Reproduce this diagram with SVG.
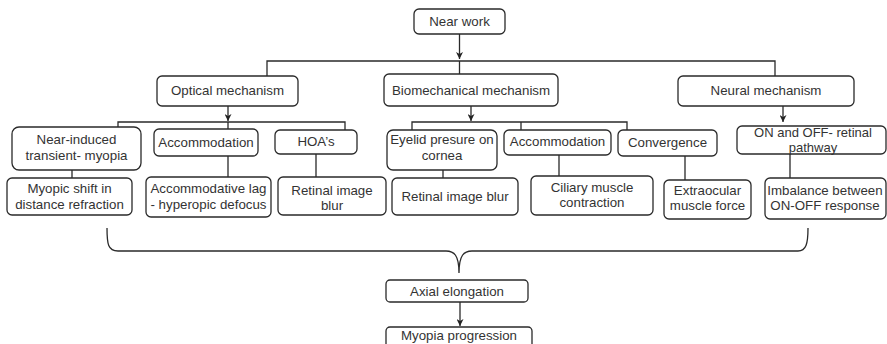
<svg xmlns="http://www.w3.org/2000/svg" width="887" height="344" viewBox="0 0 887 344">
<defs>
<marker id="arr" viewBox="0 0 10 10" refX="10" refY="5" markerWidth="7" markerHeight="7" markerUnits="userSpaceOnUse" orient="auto">
<path d="M0,0 L10,5 L0,10 L3,5 z" fill="#222"/>
</marker>
<style>
.n{fill:#fff;stroke:#2a2a2a;stroke-width:1.3}
text{font-family:"Liberation Sans",Arial,sans-serif;font-size:13.3px;fill:#333;text-anchor:middle}
.t{font-size:13px}
.c{fill:none;stroke:#2a2a2a;stroke-width:1.3}
</style>
</defs>
<rect width="887" height="344" fill="#fff"/>
<g id="connectors">
<path class="c" d="M459.5,34 V59" marker-end="url(#arr)"/>
<path class="c" d="M267,76 V61 H775 V76 M459.5,61 V74"/>
<path class="c" d="M228,106 V121" marker-end="url(#arr)"/>
<path class="c" d="M118,127 V122 H345 V130 M228,122 V129"/>
<path class="c" d="M471,106 V121" marker-end="url(#arr)"/>
<path class="c" d="M412,130 V122 H627 V130 M521,122 V130"/>
<path class="c" d="M783,106 V122" marker-end="url(#arr)"/>
<path class="c" d="M72,170 V178 M228,156 V177 M316,154 V177 M443,170 V178 M559,155 V176 M685,156 V180 M790,154 V178"/>
<path class="c" d="M107,228 C107,244 108,251 118,251 L446,251 C454,251 459,255 459,273 C459,255 464,251 472,251 L798,251 C806,251 808,244 808,228"/>
<path class="c" d="M460,302 V326" marker-end="url(#arr)"/>
</g>
<g id="near-work"><rect class="n" x="414" y="9" width="91" height="25" rx="5"/><text x="459.5" y="26">Near work</text></g>
<g id="optical"><rect class="n" x="157" y="76" width="141" height="30" rx="5"/><text x="227.5" y="95">Optical mechanism</text></g>
<g id="biomechanical"><rect class="n" x="384" y="74" width="174" height="32" rx="5"/><text x="471" y="95">Biomechanical mechanism</text></g>
<g id="neural"><rect class="n" x="678" y="76" width="176" height="30" rx="5"/><text x="766" y="95">Neural mechanism</text></g>
<g id="near-induced"><rect class="n" x="12" y="127" width="129" height="43" rx="7"/><text x="76.5" y="144">Near-induced</text><text x="76.5" y="160">transient- myopia</text></g>
<g id="accommodation-opt"><rect class="n" x="154" y="129" width="104" height="27" rx="5"/><text x="206" y="147">Accommodation</text></g>
<g id="hoas"><rect class="n" x="275" y="130" width="82" height="24" rx="5"/><text x="316" y="146">HOA’s</text></g>
<g id="eyelid"><rect class="n" x="387" y="130" width="110" height="40" rx="6"/><text x="442" y="144">Eyelid presure on</text><text x="442" y="160">cornea</text></g>
<g id="accommodation-bio"><rect class="n" x="504" y="130" width="107" height="25" rx="5"/><text x="557.5" y="146">Accommodation</text></g>
<g id="convergence"><rect class="n" x="618" y="130" width="99" height="26" rx="5"/><text x="667.5" y="147">Convergence</text></g>
<g id="on-off"><rect class="n" x="737" y="126" width="149" height="28" rx="5"/><text class="t" x="813" y="137">ON and OFF- retinal</text><text class="t" x="813" y="151.5">pathway</text></g>
<g id="myopic-shift"><rect class="n" x="7" y="178" width="125" height="37" rx="5"/><text x="69.5" y="193">Myopic shift in</text><text x="69.5" y="209">distance refraction</text></g>
<g id="accommodative-lag"><rect class="n" x="146" y="177" width="125" height="40" rx="5"/><text x="208.5" y="193">Accommodative lag</text><text x="208.5" y="209">- hyperopic defocus</text></g>
<g id="retinal-blur-1"><rect class="n" x="278" y="177" width="108" height="38" rx="5"/><text x="332" y="195">Retinal image</text><text x="332" y="210">blur</text></g>
<g id="retinal-blur-2"><rect class="n" x="392" y="178" width="126" height="37" rx="5"/><text x="455" y="201">Retinal image blur</text></g>
<g id="ciliary"><rect class="n" x="531" y="176" width="122" height="39" rx="5"/><text x="592" y="192">Ciliary muscle</text><text x="592" y="207">contraction</text></g>
<g id="extraocular"><rect class="n" x="664" y="180" width="87" height="39" rx="5"/><text x="707.5" y="195">Extraocular</text><text x="707.5" y="210">muscle force</text></g>
<g id="imbalance"><rect class="n" x="765" y="178" width="121" height="41" rx="5"/><text x="825" y="195">Imbalance between</text><text x="825" y="210">ON-OFF response</text></g>
<g id="axial"><rect class="n" x="386" y="280" width="142" height="22" rx="4"/><text x="457" y="296">Axial elongation</text></g>
<g id="myopia-progression"><rect class="n" x="386" y="327" width="146" height="24" rx="4"/><text x="459" y="340">Myopia progression</text></g>
</svg>
